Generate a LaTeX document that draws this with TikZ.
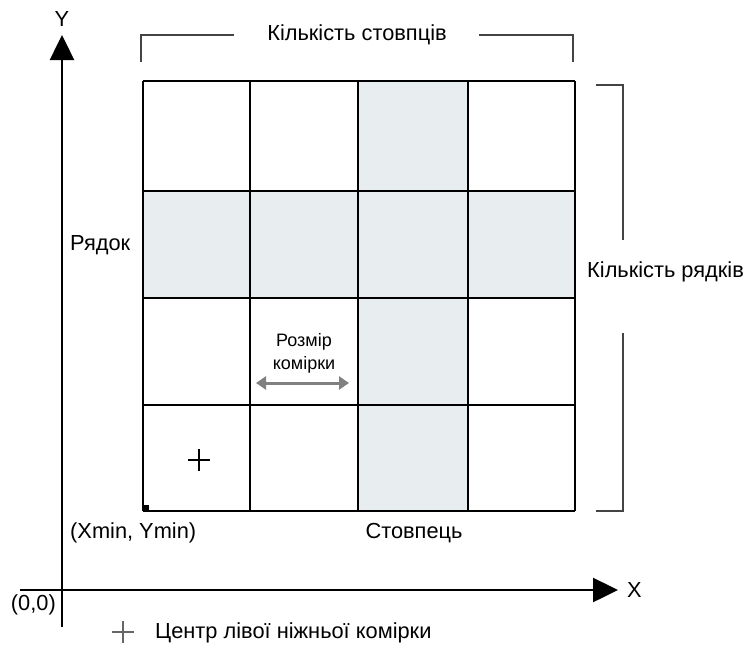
\documentclass[tikz,border=0pt]{standalone}
\usepackage{fontspec}
\setmainfont{Liberation Sans}
\usetikzlibrary{arrows.meta,positioning}
\definecolor{cellfill}{HTML}{E8EEF0}
\definecolor{bracketgray}{HTML}{444444}
\tikzstyle{every node}=[inner sep=0pt]
\tikzstyle{label}=[font=\fontsize{21.8}{25}\selectfont]
\tikzstyle{small}=[font=\fontsize{18}{23}\selectfont,align=center]
\tikzstyle{axis}=[line width=2.5pt,-{Triangle[length=25pt,width=24pt]}]
\tikzstyle{gridline}=[line width=2.5pt]
\tikzstyle{bracket}=[draw=bracketgray,line width=1.5pt]

\begin{document}
\begin{tikzpicture}[x=1pt,y=-1pt]
  \useasboundingbox (0,0) rectangle (744,646);
  % shaded row and column
  \fill[cellfill] (143,191) rectangle (575,298);
  \fill[cellfill] (358,81) rectangle (468,511);
  % grid
  \foreach \gx in {143,250,358,468,575}
    \draw[gridline] (\gx,81) -- (\gx,511);
  \foreach \gy in {81,191,298,405,511}
    \draw[gridline] (143,\gy) -- (575,\gy);
  \fill (143,505) rectangle (149,511);
  % axes
  \coordinate (origin) at (62,590);
  \coordinate (ybot) at (62,627);
  \coordinate (ytop) at (62,35);
  \coordinate (xleft) at (20,590);
  \coordinate (xright) at (618,590);
  \draw[axis] (ybot) -- (ytop);
  \draw[axis] (xleft) -- (xright);
  \node[label] (ylab) at (62,19) {Y};
  \node[label,anchor=west] (xlab) at (627,590) {X};
  \node[label,anchor=east] (zero) at (56,605) {(0,0)};
  % top bracket
  \node[label] (ncols) at (357,35) {Кількість стовпців};
  \draw[bracket] (ncols.west) ++(-33,0) -| (141,62);
  \draw[bracket] (ncols.east) ++(32,0) -| (573,62);
  % right bracket
  \node[label,anchor=west] (nrows) at (587,272) {Кількість рядків};
  \draw[bracket] (596,85) -| (623,240);
  \draw[bracket] (623,333) |- (596,511);
  % labels
  \node[label,anchor=west] (row) at (70,245) {Рядок};
  \node[label] (col) at (414,533) {Стовпець};
  \node[label,anchor=west] (corner) at (70,533) {(Xmin, Ymin)};
  \node[small] (cellsize) at (304,353) {Розмір\\комірки};
  \coordinate (csl) at (256,383);
  \coordinate (csr) at (349,383);
  \draw[gray,line width=3pt,{Triangle[length=10pt,width=13pt]}-{Triangle[length=10pt,width=13pt]}] (csl) -- (csr);
  % centre marker
  \draw[line width=1.2pt] (188,460) -- (210,460) (199,449) -- (199,471);
  \draw[line width=1.2pt,gray!80!black] (112,632) -- (134,632) (123,621) -- (123,643);
  \node[label,anchor=west] (legend) at (155,633) {Центр лівої ніжньої комірки};
\end{tikzpicture}
\end{document}
